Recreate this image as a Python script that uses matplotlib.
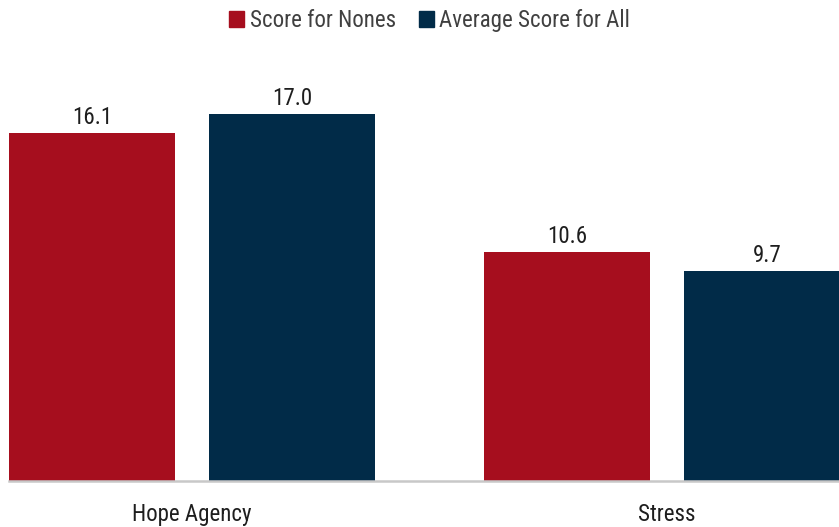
import numpy as np
import matplotlib.pyplot as plt
from matplotlib.patches import Patch

categories = ["Hope Agency", "Stress"]
series_names = ["Score for Nones", "Average Score for All"]
nones = [16.1, 10.6]
all_avg = [17.0, 9.7]

red = "#A60E1E"
navy = "#012B48"

plt.rcParams['font.family'] = ['Roboto Condensed', 'Roboto', 'DejaVu Sans']

W, H = 839, 527
fig = plt.figure(figsize=(W / 100, H / 100), dpi=100)
# axes run a little past the right edge so the last bar gets clipped
ax = fig.add_axes([9 / W, 46 / H, 841 / W, 432 / H])

x = np.arange(len(categories))
bw = 0.3495
off = 0.2105
b1 = ax.bar(x - off, nones, bw, color=red)
b2 = ax.bar(x + off, all_avg, bw, color=navy)

for bars, vals in ((b1, nones), (b2, all_avg)):
    for b, v in zip(bars, vals):
        ax.annotate(f"{v:.1f}", (b.get_x() + b.get_width() / 2, v),
                    xytext=(0, 6.5), textcoords="offset points",
                    ha="center", va="baseline", fontsize=16.5, color="#1e1e1e")

ax.set_xlim(-0.3853, 1.385)
ax.set_ylim(0, 20)
ax.set_xticks(x)
ax.set_xticklabels(categories, fontsize=16.5, color="#1e1e1e")
ax.tick_params(axis="x", length=0, pad=16)
ax.set_yticks([])
for s in ("left", "right", "top"):
    ax.spines[s].set_visible(False)
ax.spines["bottom"].set_color("#c8c8c8")
ax.spines["bottom"].set_linewidth(1.8)

handles = [Patch(color=red), Patch(color=navy)]
fig.legend(handles, series_names, loc="upper center", bbox_to_anchor=(0.512, 1.022),
           ncol=2, frameon=False, fontsize=16.5, labelcolor="#404040",
           handlelength=0.65, handleheight=0.65, handletextpad=0.25, columnspacing=1.0)

fig.savefig("out.png", dpi=100)
